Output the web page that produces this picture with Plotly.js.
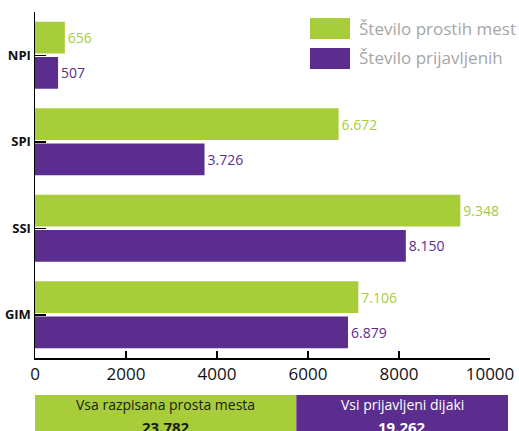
<!DOCTYPE html>
<html><head><meta charset="utf-8">
<script src="https://cdn.plot.ly/plotly-3.0.1.min.js"></script>
<style>html,body{margin:0;padding:0;background:#fff}#chart{width:519px;height:431px}</style>
</head><body><div id="chart"></div>
<script>
const categories = ['NPI', 'SPI', 'SSI', 'GIM'];
const prostaMesta = [656, 6672, 9348, 7106];
const prijavljeni = [507, 3726, 8150, 6879];
const seriesNames = ['Število prostih mest', 'Število prijavljenih'];
const totalLabels = ['Vsa razpisana prosta mesta', 'Vsi prijavljeni dijaki'];
const xTicks = [0, 2000, 4000, 6000, 8000, 10000];

const GREEN = '#a8cd3a', PURPLE = '#5b2d8e';
const FONT = 'Open Sans, Noto Sans, sans-serif';
const fmt = n => String(n).replace(/\B(?=(\d{3})+(?!\d))/g, '.');
const sum = a => a.reduce((s, v) => s + v, 0);
const totals = [sum(prostaMesta), sum(prijavljeni)];

// pixel helpers for paper coords (margins l=35, r=11, t=12, b=0)
const W = 519, H = 431, ML = 35, MR = 11, MT = 12, MB = 0;
const px = x => (x - ML) / (W - ML - MR);
const py = y => (H - MB - y) / (H - MT - MB);

const traces = [
  {type: 'bar', orientation: 'h', name: seriesNames[0], y: categories, x: prostaMesta,
   marker: {color: GREEN}, text: prostaMesta.map(fmt), textposition: 'outside',
   textfont: {color: GREEN, size: 14, family: FONT}, cliponaxis: false, constraintext: 'none',
   xaxis: 'x', yaxis: 'y', hoverinfo: 'none'},
  {type: 'bar', orientation: 'h', name: seriesNames[1], y: categories, x: prijavljeni,
   marker: {color: PURPLE}, text: prijavljeni.map(fmt), textposition: 'outside',
   textfont: {color: PURPLE, size: 14, family: FONT}, cliponaxis: false, constraintext: 'none',
   xaxis: 'x', yaxis: 'y', hoverinfo: 'none'},
  {type: 'bar', orientation: 'h', y: [0], x: [totals[0]], base: [0], width: 1, offset: -0.5,
   marker: {color: GREEN}, xaxis: 'x2', yaxis: 'y2', hoverinfo: 'none'},
  {type: 'bar', orientation: 'h', y: [0], x: [totals[1]], base: [totals[0]], width: 1, offset: -0.5,
   marker: {color: PURPLE}, xaxis: 'x2', yaxis: 'y2', hoverinfo: 'none'}
];

const layout = {
  width: W, height: H,
  margin: {l: ML, r: MR, t: MT, b: MB, pad: 0},
  paper_bgcolor: '#fff', plot_bgcolor: 'rgba(0,0,0,0)',
  showlegend: false,
  barmode: 'group', bargap: 0.185, bargroupgap: 0.1,
  font: {family: FONT, color: '#000'},
  xaxis: {domain: [0, px(490)], range: [0, 10000], tickvals: xTicks, tickformat: 'd',
    showline: true, linecolor: '#000', linewidth: 1.5, ticks: 'inside', ticklen: 7,
    tickwidth: 1.5, tickcolor: '#000', showgrid: false, zeroline: false,
    tickfont: {size: 17, color: '#111', family: FONT}, anchor: 'y', fixedrange: true},
  yaxis: {domain: [py(358), 1], type: 'category', categoryarray: categories, range: [3.5, -0.5],
    showline: true, linecolor: '#000', linewidth: 1.5, ticks: 'inside', ticklen: 11,
    tickwidth: 1.5, tickcolor: '#000', showgrid: false, zeroline: false,
    tickfont: {size: 13, color: '#111', family: FONT, weight: 'bold'}, anchor: 'x', fixedrange: true},
  xaxis2: {domain: [0, 1], range: [0, totals[0] + totals[1]], visible: false, anchor: 'y2', fixedrange: true},
  yaxis2: {domain: [0, py(395)], range: [-0.5, 0.5], visible: false, anchor: 'x2', fixedrange: true},
  shapes: [
    {type: 'rect', xref: 'paper', yref: 'paper', x0: px(310), x1: px(350), y0: py(39), y1: py(18), fillcolor: GREEN, line: {width: 0}},
    {type: 'rect', xref: 'paper', yref: 'paper', x0: px(310), x1: px(350), y0: py(69), y1: py(48), fillcolor: PURPLE, line: {width: 0}}
  ],
  annotations: [
    {xref: 'paper', yref: 'paper', x: px(357), y: py(29), xanchor: 'left', yanchor: 'middle', showarrow: false,
     text: seriesNames[0], font: {size: 17, color: '#a6a6a6', family: FONT}},
    {xref: 'paper', yref: 'paper', x: px(357), y: py(58), xanchor: 'left', yanchor: 'middle', showarrow: false,
     text: seriesNames[1], font: {size: 17, color: '#a6a6a6', family: FONT}},
    {xref: 'x2', yref: 'y2', x: totals[0] / 2, y: 0.25, xanchor: 'center', yanchor: 'middle', showarrow: false,
     text: totalLabels[0], font: {size: 14, color: '#1a1a1a', family: FONT}},
    {xref: 'x2', yref: 'y2', x: totals[0] / 2, y: -0.39, xanchor: 'center', yanchor: 'middle', showarrow: false,
     text: '<b>' + fmt(totals[0]) + '</b>', font: {size: 15, color: '#1a1a1a', family: FONT}},
    {xref: 'x2', yref: 'y2', x: totals[0] + totals[1] / 2, y: 0.25, xanchor: 'center', yanchor: 'middle', showarrow: false,
     text: totalLabels[1], font: {size: 14, color: '#ffffff', family: FONT}},
    {xref: 'x2', yref: 'y2', x: totals[0] + totals[1] / 2, y: -0.39, xanchor: 'center', yanchor: 'middle', showarrow: false,
     text: '<b>' + fmt(totals[1]) + '</b>', font: {size: 15, color: '#ffffff', family: FONT}}
  ]
};

Plotly.newPlot('chart', traces, layout, {displayModeBar: false, staticPlot: true});
</script>
</body></html>
